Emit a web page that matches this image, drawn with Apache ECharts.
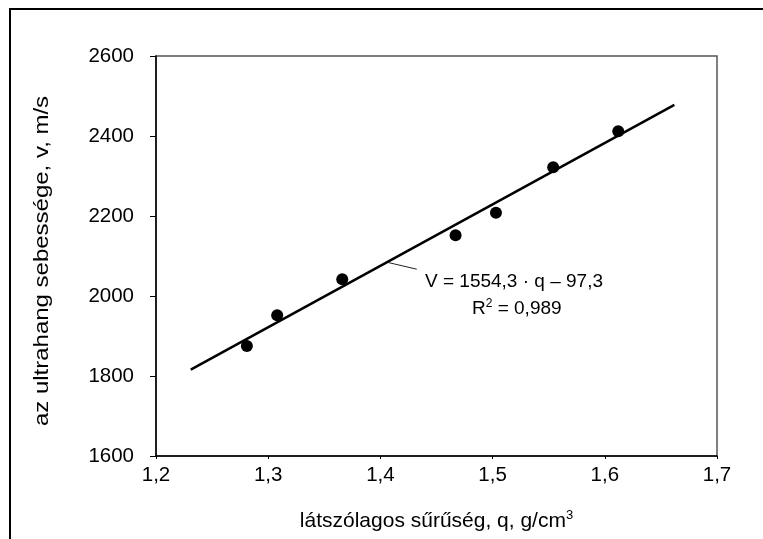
<!DOCTYPE html>
<html>
<head>
<meta charset="utf-8">
<script src="https://cdn.jsdelivr.net/npm/echarts@6/dist/echarts.min.js"></script>
<style>
html,body{margin:0;padding:0;background:#fff;}
#frame{position:absolute;left:9px;top:8px;width:800px;height:600px;border-left:2px solid #000;border-top:2px solid #000;}
#chart{position:absolute;left:0;top:0;width:763px;height:539px;}
</style>
</head>
<body>
<div id="frame"></div>
<div id="chart"></div>
<script>
// measured points: apparent density (g/cm3) vs ultrasonic velocity (m/s)
const density = [1.281, 1.308, 1.366, 1.467, 1.503, 1.554, 1.612];
const velocity = [1875, 1952, 2042, 2152, 2208, 2322, 2412];
// regression line end points
const fitX = [1.231, 1.662];
const fitY = [1816, 2478];
// annotation leader line end points
const leaderX = [1.4065, 1.4324];
const leaderY = [2084, 2067];
const xTicks = ['1,2','1,3','1,4','1,5','1,6','1,7'];
const yTicks = ['1600','1800','2000','2200','2400','2600'];
const xTitle = 'látszólagos sűrűség, q, g/cm{sup|3}';
const yTitle = 'az ultrahang sebessége, v, m/s';
const eqText = 'V = 1554,3 \u00B7 q \u2013 97,3';
const r2Text = 'R{sup|2} = 0,989';

const font = 'Liberation Sans, Arial, sans-serif';
const chart = echarts.init(document.getElementById('chart'), null, {renderer:'canvas'});
chart.setOption({
  backgroundColor: 'transparent',
  animation: false,
  grid: {left:156, right:46, top:56, bottom:83, show:true, borderColor:'#555', borderWidth:1.5, backgroundColor:'transparent'},
  xAxis: {
    type:'value', min:1.2, max:1.7, interval:0.1,
    name:xTitle,
    nameLocation:'middle', nameGap:53,
    nameTextStyle:{fontFamily:font, fontSize:21, color:'#000', rich:{sup:{fontSize:13, verticalAlign:'top', padding:[0,0,11,0], fontFamily:font, color:'#000'}}},
    axisLine:{show:true, onZero:false, lineStyle:{color:'#000', width:1.5}},
    axisTick:{show:true, inside:false, length:3, lineStyle:{color:'#000'}},
    splitLine:{show:false},
    axisLabel:{fontFamily:font, fontSize:20.5, color:'#000', margin:9,
      formatter:(v)=>xTicks[Math.round((v-1.2)*10)]}
  },
  yAxis: {
    type:'value', min:1600, max:2600, interval:200,
    axisLine:{show:true, onZero:false, lineStyle:{color:'#000', width:1.5}},
    axisTick:{show:true, inside:false, length:6, lineStyle:{color:'#000'}},
    splitLine:{show:false},
    axisLabel:{fontFamily:font, fontSize:20.5, color:'#000', margin:22,
      formatter:(v)=>yTicks[Math.round((v-1600)/200)]}
  },
  series: [
    {type:'line', data: fitX.map((x,i)=>[x, fitY[i]]), symbol:'none',
      lineStyle:{color:'#000', width:2.5}, z:2},
    {type:'line', data: leaderX.map((x,i)=>[x, leaderY[i]]), symbol:'none',
      lineStyle:{color:'#222', width:1}, z:2},
    {type:'scatter', data: density.map((x,i)=>[x, velocity[i]]), symbol:'circle', symbolSize:12,
      itemStyle:{color:'#000', opacity:1}, z:3}
  ],
  graphic: [
    {type:'text', x:42, y:261, rotation:Math.PI/2, scaleX:1.17,
      style:{text:yTitle, font:'20.5px '+font, fill:'#000', align:'center', verticalAlign:'middle'}},
    {type:'text', left:425, top:272, style:{text:eqText, font:'19px '+font, fill:'#000'}},
    {type:'text', left:472, top:298, style:{text:r2Text, rich:{sup:{fontSize:12, verticalAlign:'top', padding:[0,0,10,0], fontFamily:font, fill:'#000'}}, font:'19px '+font, fill:'#000'}}
  ]
});
</script>
</body>
</html>
